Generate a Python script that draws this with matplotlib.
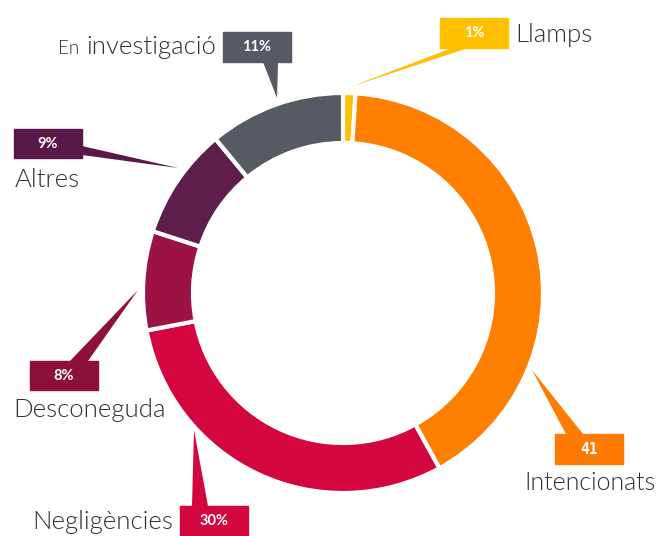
import matplotlib.pyplot as plt
from matplotlib.patches import Polygon, Rectangle

# data
categories = ["Llamps", "Intencionats", "Negligències", "Desconeguda", "Altres", "En investigació"]
values = [1, 41, 30, 8, 9, 11]
box_labels = ["1%", "41", "30%", "8%", "9%", "11%"]
colors = ["#FFC000", "#FF8000", "#D4063F", "#9C1244", "#5E1E4B", "#565B62"]
box_colors = ["#FFC000", "#FF7A00", "#D4063F", "#8C0F3C", "#5A1848", "#565B62"]

W, H = 661, 536


def py(y):
    # pixel row -> data y
    return H - y


fig = plt.figure(figsize=(6.61, 5.36), dpi=100)
ax = fig.add_axes([0, 0, 1, 1])

ax.pie(values, colors=colors, startangle=90, counterclock=False,
       center=(343, py(293)), radius=200,
       wedgeprops=dict(width=50, edgecolor="white", linewidth=3))
ax.set_xlim(0, W)
ax.set_ylim(0, H)
ax.set_aspect("equal")
ax.axis("off")

# callout layout: box (x0, y0, x1, y1), pointer base points, tip, label position
boxes = [(440, 18, 508, 48), (555, 434, 623, 464), (180, 506, 248, 536),
         (30, 361, 98, 390), (14, 129, 82, 158), (223, 32, 291, 62)]
bases = [((452, 48), (468, 48)), ((566, 434), (583, 434)), ((192, 506), (208, 506)),
         ((70, 361), (88, 361)), ((82, 146), (82, 155)), ((263, 62), (278, 62))]
tips = [(350, 87), (532, 370), (194, 430), (138, 290), (178, 168), (277, 98)]
label_pos = [(515, 35, "left"), (656, 483, "right"), (173, 522, "right"),
             (13, 410, "left"), (15, 180, "left"), (216, 47, "right")]

txt = dict(family="Lato", fontweight=300, color="#2B2F36", va="center")

for i, cat in enumerate(categories):
    x0, y0, x1, y1 = boxes[i]
    ax.add_patch(Rectangle((x0, py(y1)), x1 - x0, y1 - y0, color=box_colors[i], zorder=3))
    (bx0, by0), (bx1, by1) = bases[i]
    tx, ty = tips[i]
    ax.add_patch(Polygon([(bx0, py(by0)), (bx1, py(by1)), (tx, py(ty))],
                         closed=True, color=box_colors[i], zorder=3, lw=0))
    fam = "DejaVu Sans Mono" if box_labels[i] == "41" else "Lato"
    ax.text((x0 + x1) / 2, py((y0 + y1) / 2), box_labels[i], color="white",
            fontsize=10.5, fontweight="bold", family=fam, ha="center", va="center", zorder=4)
    lx, ly, ha = label_pos[i]
    size = 18 if cat == "Intencionats" else 18.5
    if cat == "En investigació":
        t = ax.text(lx, py(ly), "investigació", fontsize=size, ha="right", **txt)
        ax.annotate("En", xy=(0, 0.42), xycoords=t, xytext=(-5, 0),
                    textcoords="offset points", fontsize=13.5, ha="right", **txt)
    else:
        ax.text(lx, py(ly), cat, fontsize=size, ha=ha, **txt)

fig.savefig("out.png", dpi=100)
